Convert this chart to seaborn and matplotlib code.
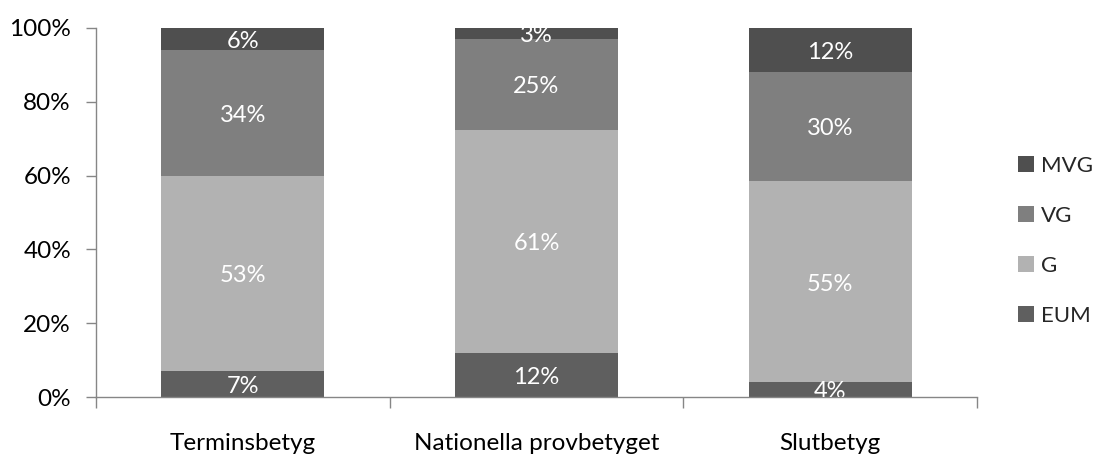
import matplotlib
matplotlib.use("Agg")
import matplotlib.pyplot as plt
from matplotlib.patches import Patch
from matplotlib.ticker import FixedLocator, FuncFormatter
import numpy as np
import pandas as pd
import seaborn as sns

# Grade shares (%) per assessment type
categories = ["Terminsbetyg", "Nationella provbetyget", "Slutbetyg"]
eum = [7, 12, 4]
g = [53, 61, 55]
vg = [34, 25, 30]
mvg = [6, 3, 12]

grades = ["EUM", "G", "VG", "MVG"]
colors = {"EUM": "#5f5f5f", "G": "#b2b2b2", "VG": "#7f7f7f", "MVG": "#4f4f4f"}

sns.set_theme(style="white")
plt.rcParams["font.family"] = ["Lato", "DejaVu Sans"]

df = pd.DataFrame({"kategori": categories, "EUM": eum, "G": g, "VG": vg, "MVG": mvg})
totals = df[grades].sum(axis=1)
# 100 % stacked: scale each column so the segments fill the bar
share = df[grades].div(totals, axis=0) * 100
cum = share.cumsum(axis=1)

fig = plt.figure(figsize=(10.96, 4.55), dpi=100)
ax = fig.add_axes([96 / 1096, 58 / 455, (977 - 96) / 1096, (397 - 28) / 455])

# draw cumulative tops from tallest to shortest so each layer overlays the previous one
for grade in reversed(grades):
    sns.barplot(x=df["kategori"], y=cum[grade], color=colors[grade], width=0.555,
                saturation=1, ax=ax, linewidth=0, order=categories)

# value labels in the middle of each segment (clipped to the plot area)
for i in range(len(categories)):
    bottom = 0.0
    for grade in grades:
        h = share.loc[i, grade]
        ax.text(i, bottom + h / 2 - 0.6, f"{df.loc[i, grade]}%", ha="center", va="center",
                color="white", fontsize=17, clip_on=True)
        bottom += h

ax.set_xlim(-0.5, 2.5)
ax.set_ylim(0, 100)
ax.set_xlabel("")
ax.set_ylabel("")

ax.yaxis.set_major_locator(FixedLocator([0, 20, 40, 60, 80, 100]))
ax.yaxis.set_major_formatter(FuncFormatter(lambda v, p: f"{int(v)}%"))

spine_color = "#868686"
for side in ["top", "right"]:
    ax.spines[side].set_visible(False)
for side in ["left", "bottom"]:
    ax.spines[side].set_color(spine_color)
    ax.spines[side].set_linewidth(1.0)

ax.tick_params(axis="y", which="major", left=True, length=7, width=1, color=spine_color,
               labelsize=17.5, labelcolor="#000000", pad=11)
ax.set_xticks(range(len(categories)))
ax.set_xticklabels(categories)
ax.set_xticks([-0.5, 0.5, 1.5, 2.5], minor=True)
ax.tick_params(axis="x", which="major", bottom=False, length=0, labelsize=17.5,
               labelcolor="#000000", pad=26)
ax.tick_params(axis="x", which="minor", bottom=True, length=8, width=1, color=spine_color)

handles = [Patch(facecolor=colors[gname], edgecolor="none", label=gname)
           for gname in ["MVG", "VG", "G", "EUM"]]
fig.legend(handles=handles, loc="center left", bbox_to_anchor=(1018 / 1096, 0.47),
           frameon=False, fontsize=16, handlelength=0.72, handleheight=0.72,
           handletextpad=0.3, labelspacing=1.35, borderpad=0, borderaxespad=0)

fig.savefig("out.png", dpi=100, facecolor="white")
